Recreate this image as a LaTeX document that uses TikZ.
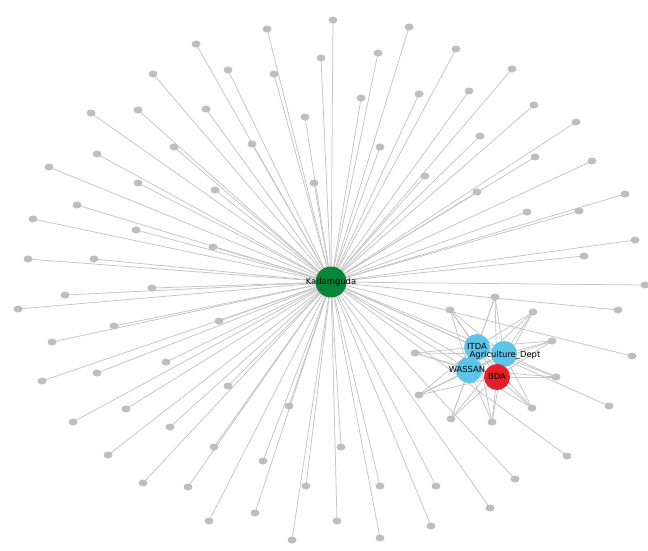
\documentclass[tikz,border=0pt]{standalone}
\usepackage{fontspec}
\setmainfont{DejaVu Sans}
\usetikzlibrary{shapes.geometric}
\definecolor{edgegrey}{RGB}{196,196,196}
\definecolor{leafgrey}{RGB}{190,190,190}
\definecolor{hubgreen}{RGB}{10,132,56}
\definecolor{orgblue}{RGB}{92,196,232}
\definecolor{orgred}{RGB}{232,30,38}
\tikzset{
  leaf/.style={ellipse,minimum width=9pt,minimum height=7pt,inner sep=0pt},
  hub/.style={ellipse,fill=hubgreen,minimum width=31pt,minimum height=31pt,inner sep=0pt},
  org/.style={circle,fill=orgblue,minimum size=26pt,inner sep=0pt},
  orgr/.style={circle,fill=orgred,minimum size=26pt,inner sep=0pt},
  lbl/.style={font=\fontsize{8.4}{9}\selectfont,text=black,inner sep=0pt},
  link/.style={draw=edgegrey,line width=0.75pt}
}
\begin{document}
\begin{tikzpicture}[x=1pt,y=-1pt]
\useasboundingbox (0,0) rectangle (648,550);
\fill[white] (0,0) rectangle (648,550);

% centre and organisation positions
\coordinate (K) at (331,282);
\coordinate (I) at (477,347);
\coordinate (A) at (504,354);
\coordinate (W) at (469,370);
\coordinate (B) at (497,377);

% leaves attached only to Kadamguda (shapes placed, filled later)
\foreach \n/\p in {
 a1/{267,29}, a2/{196,44}, a3/{321,58}, a4/{228,70}, a5/{274,74}, a6/{153,74},
 a7/{91,113}, a8/{138,110}, a9/{206,109}, a10/{305,117}, a11/{174,147}, a12/{252,144},
 a13/{97,154}, a14/{49,167}, a15/{138,183}, a16/{215,190}, a17/{314,183}, a18/{77,205},
 a19/{33,219}, a20/{136,230}, a21/{213,247}, a22/{28,259}, a23/{94,259},
 b1/{333,20}, b2/{409,27}, b3/{378,53}, b4/{456,49}, b5/{512,69}, b6/{361,98},
 b7/{419,94}, b8/{469,91}, b9/{534,105}, b10/{576,122}, b11/{380,147}, b12/{480,136},
 b13/{535,157}, b14/{592,161}, b15/{425,176}, b16/{477,192}, b17/{625,194},
 b18/{527,212}, b19/{579,211}, b20/{635,240}, b21/{584,256},
 c1/{152,288}, c2/{65,295}, c3/{18,309}, c4/{114,326}, c5/{219,321}, c6/{52,342},
 c7/{166,362}, c8/{97,373}, c9/{42,381}, c10/{228,386}, c11/{289,406}, c12/{126,409},
 c13/{73,422}, c14/{170,427}, c15/{214,447}, c16/{108,455}, c17/{263,461}, c18/{143,483},
 c19/{188,487}, c20/{306,486}, c21/{255,513}, c22/{209,521}, c23/{292,540},
 d1/{645,285}, d2/{618,310}, d3/{632,356}, d4/{609,406}, d5/{567,456},
 d6/{341,447}, d7/{380,486}, d8/{436,486}, d9/{515,479}, d10/{490,508},
 d11/{337,521}, d12/{431,526}, d13/{380,538}}
{
  \node[leaf] (\n) at (\p) {};
}

% leaves shared by the four organisations
\foreach \n/\p in {
 e1/{495,297}, e2/{450,310}, e3/{533,312}, e4/{552,341}, e5/{415,353},
 e6/{556,377}, e7/{419,395}, e8/{532,408}, e9/{451,419}, e10/{492,422}}
{
  \node[leaf] (\n) at (\p) {};
}

% connectors
\foreach \n in {a1,a2,a3,a4,a5,a6,a7,a8,a9,a10,a11,a12,a13,a14,a15,a16,a17,a18,a19,a20,a21,a22,a23,
 b1,b2,b3,b4,b5,b6,b7,b8,b9,b10,b11,b12,b13,b14,b15,b16,b17,b18,b19,b20,b21,
 c1,c2,c3,c4,c5,c6,c7,c8,c9,c10,c11,c12,c13,c14,c15,c16,c17,c18,c19,c20,c21,c22,c23,
 d1,d2,d3,d4,d5,d6,d7,d8,d9,d10,d11,d12,d13}
{
  \draw[link] (K) -- (\n.center);
}
\foreach \o in {I,A,W,B}{
  \draw[link] (K) -- (\o);
  \foreach \n in {e1,e2,e3,e4,e5,e6,e7,e8,e9,e10}{
    \draw[link] (\o) -- (\n.center);
  }
}
\draw[link] (I) -- (A) -- (B) -- (W) -- (I) -- (B);
\draw[link] (A) -- (W);

% leaf discs on top of the connectors
\foreach \n in {a1,a2,a3,a4,a5,a6,a7,a8,a9,a10,a11,a12,a13,a14,a15,a16,a17,a18,a19,a20,a21,a22,a23,
 b1,b2,b3,b4,b5,b6,b7,b8,b9,b10,b11,b12,b13,b14,b15,b16,b17,b18,b19,b20,b21,
 c1,c2,c3,c4,c5,c6,c7,c8,c9,c10,c11,c12,c13,c14,c15,c16,c17,c18,c19,c20,c21,c22,c23,
 d1,d2,d3,d4,d5,d6,d7,d8,d9,d10,d11,d12,d13,e1,e2,e3,e4,e5,e6,e7,e8,e9,e10}
{
  \fill[leafgrey] (\n.center) ellipse (4.5pt and 3.5pt);
}

% hub and organisations
\node[hub] (kad) at (K) {};
\node[org] (itda) at (I) {};
\node[org] (agri) at (A) {};
\node[org] (wassan) at (W) {};
\node[orgr] (bda) at (B) {};

% labels
\node[lbl] at (kad.center) {Kadamguda};
\node[lbl] at (477,346) {ITDA};
\node[lbl] at (505,355) {Agriculture\_Dept};
\node[lbl] at (467,369) {WASSAN};
\node[lbl] at (497,376) {BDA};
\end{tikzpicture}
\end{document}
